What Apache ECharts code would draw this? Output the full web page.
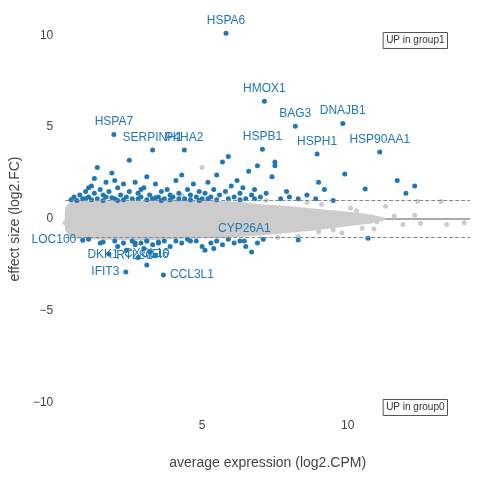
<!DOCTYPE html>
<html>
<head>
<meta charset="utf-8">
<script src="https://cdn.jsdelivr.net/npm/echarts@6/dist/echarts.min.js"></script>
<style>html,body{margin:0;padding:0;background:#fff}#main{width:480px;height:480px}</style>
</head>
<body>
<div id="main"></div>
<script>
// grey cloud envelope (non-significant genes): x, upper, lower
let cloudX = [0.3, 0.5, 1, 2, 3, 4, 5, 6, 6.5, 7, 8, 9, 10, 10.8, 11.3];
let cloudUp = [0.6, 0.95, 1.0, 1.0, 1.0, 1.0, 1.0, 0.95, 0.9, 0.8, 0.7, 0.55, 0.4, 0.25, 0.05];
let cloudLo = [-0.6, -1.0, -1.1, -1.15, -1.15, -1.1, -1.05, -1.0, -0.95, -0.9, -0.75, -0.6, -0.4, -0.25, -0.05];
// trend line
let trend = [[0.3, 0], [14.2, 0]];
// grey outliers
let greyPts = [[11.3, 0.7], [12.3, 0.2], [12.4, 0.95], [13.2, 0.95], [11.9, -0.3], [12.5, -0.25],
  [13.4, -0.3], [14.0, -0.2], [10.9, -0.55], [9.5, -0.6], [9.8, -0.75], [11.0, -0.15], [5.0, 2.8], [4.3, 1.3],
  [8.6, 0.9], [9.1, 0.8], [10.1, 0.6], [10.5, -0.5], [8.3, -0.95], [7.6, -1.0], [9.0, -0.7], [7.2, 1.0],
  [0.4, 0.3], [0.3, -0.2], [11.6, 0.15], [10.3, 0.45]];
// significant genes, labelled
let labNames = ['HSPA6', 'HMOX1', 'BAG3', 'DNAJB1', 'HSPA7', 'SERPINH1', 'P4HA2', 'HSPB1', 'HSPH1', 'HSP90AA1',
  'IFIT3', 'CCL3L1', 'CYP26A1', 'LOC100', 'DKK1', 'RTL8C', 'CXCL10', 'IFI6'];
let labX = [5.82, 7.14, 8.2, 9.83, 1.97, 3.3, 4.39, 7.07, 8.95, 11.1, 2.38, 3.67, 6.45, 0.9, 1.6, 2.7, 3.1, 3.5];
let labY = [10.1, 6.41, 5.05, 5.2, 4.6, 3.75, 3.75, 3.8, 3.53, 3.64, -2.88, -3.04, -1.2, -1.15, -1.25, -1.3, -1.2, -1.25];
let labPos = ['top', 'top', 'top', 'top', 'top', 'top', 'top', 'top', 'top', 'top',
  'left', 'right', 'top', 'left', 'bottom', 'bottom', 'bottom', 'bottom'];
// significant genes, unlabelled
let bluePts = [
  [0.6, 1.2], [0.8, 1.3], [0.9, 1.1], [1.0, 1.5], [1.1, 1.2], [1.2, 1.8], [1.3, 1.4], [1.3, 2.2], [1.4, 1.1], [1.5, 1.6],
  [1.6, 1.3], [1.7, 2.0], [1.7, 1.2], [1.8, 1.5], [1.9, 2.5], [2.0, 1.1], [2.1, 1.7], [2.2, 1.3], [2.3, 1.9], [2.4, 1.2],
  [2.5, 3.2], [2.5, 1.5], [2.6, 1.1], [2.7, 2.0], [2.8, 1.4], [2.9, 1.2], [3.0, 1.7], [3.1, 2.3], [3.2, 1.3], [3.3, 1.1],
  [3.4, 1.9], [3.5, 1.2], [3.6, 1.5], [3.7, 1.1], [3.8, 1.6], [3.9, 1.3], [4.0, 1.2], [4.1, 2.1], [4.2, 1.4], [4.3, 2.4],
  [4.4, 1.1], [4.5, 1.6], [4.6, 1.3], [4.7, 1.9], [4.8, 1.2], [4.9, 1.5], [5.0, 1.1], [5.1, 1.4], [5.2, 2.0], [5.3, 1.2],
  [5.4, 1.6], [5.5, 2.4], [5.6, 1.3], [5.7, 3.1], [5.8, 1.5], [5.9, 3.4], [6.0, 1.8], [6.1, 1.2], [6.2, 2.1], [6.3, 1.4],
  [6.4, 1.7], [6.5, 1.1], [6.6, 2.6], [6.7, 1.3], [6.8, 1.6], [6.9, 2.9], [7.0, 1.2], [7.2, 1.4], [7.4, 2.3], [7.5, 2.9],
  [7.5, 3.1], [7.7, 1.1], [7.9, 1.5], [8.0, 1.2], [8.3, 1.1], [8.6, 1.3], [8.9, 1.1], [9.0, 2.0], [9.2, 1.6], [9.5, 1.0],
  [9.9, 2.45], [10.6, 1.63], [11.7, 2.1], [12.0, 1.4], [12.3, 1.8], [0.7, 1.0], [1.4, 2.8], [2.1, 1.0], [3.6, 1.0], [4.9, 1.0],
  [0.5, 1.05], [1.0, 1.1], [1.2, 1.05], [1.6, 1.0], [1.9, 1.15], [2.3, 1.05], [2.8, 1.1], [3.1, 1.05], [3.4, 1.15], [3.9, 1.05],
  [4.2, 1.1], [4.6, 1.05], [5.2, 1.1], [5.5, 1.05], [5.9, 1.1], [6.3, 1.05], [6.8, 1.1], [1.1, 1.7], [2.0, 2.1], [2.9, 1.6],
  [1.1, -1.1], [1.5, -1.3], [1.8, -1.9], [2.0, -1.2], [2.1, -1.5], [2.3, -1.3], [2.4, -1.7], [2.6, -1.2], [2.7, -1.4], [2.8, -2.1],
  [2.9, -1.3], [3.0, -1.6], [3.1, -1.2], [3.2, -1.8], [3.3, -1.4], [3.4, -2.0], [3.5, -1.3], [3.7, -1.2], [3.9, -1.5], [4.1, -1.2],
  [4.3, -1.3], [4.5, -1.1], [4.8, -1.2], [5.0, -1.5], [5.1, -1.7], [5.3, -1.3], [5.4, -1.6], [5.5, -1.2], [5.7, -1.4], [5.9, -1.1],
  [6.1, -1.3], [6.3, -1.2], [6.5, -1.5], [6.7, -1.8], [6.9, -1.3], [7.1, -1.1], [8.3, -1.14], [10.7, -1.05], [3.1, -2.5], [4.6, -1.2]
];

let chart = echarts.init(document.getElementById('main'));
let blue = '#1f77b4';
chart.setOption({
  animation: false,
  grid: { left: 62, right: 10, top: 26, bottom: 68 },
  xAxis: {
    type: 'value', min: 0.3, max: 14.2,
    name: 'average expression (log2.CPM)', nameLocation: 'middle', nameGap: 44,
    nameTextStyle: { fontSize: 14, color: '#444' },
    axisLine: { show: false }, splitLine: { show: false },
    axisTick: { show: false },
    axisLabel: { customValues: [5, 10], color: '#444', fontSize: 12 }
  },
  yAxis: {
    type: 'value', min: -10.5, max: 10.5,
    name: 'effect size (log2.FC)', nameLocation: 'middle', nameGap: 38,
    nameTextStyle: { fontSize: 14, color: '#444' },
    axisLine: { show: false }, splitLine: { show: false },
    axisTick: { show: false },
    axisLabel: { customValues: [-10, -5, 0, 5, 10], color: '#444', fontSize: 12, margin: 12,
      formatter: v => v < 0 ? '\u2212' + Math.abs(v) : String(v) }
  },
  series: [
    {
      type: 'line', data: trend, symbol: 'none', lineStyle: { color: '#aaa', width: 2 }, z: 1,
      markLine: {
        silent: true, symbol: 'none', label: { show: false },
        lineStyle: { color: '#888', type: 'dashed', width: 1 },
        data: [{ yAxis: 1 }, { yAxis: -1 }]
      }
    },
    {
      type: 'custom', z: 2,
      data: [0],
      renderItem: function (params, api) {
        let pts = [];
        cloudX.forEach((x, i) => pts.push(api.coord([x, cloudUp[i]])));
        for (let i = cloudX.length - 1; i >= 0; i--) pts.push(api.coord([cloudX[i], cloudLo[i]]));
        return { type: 'polygon', shape: { points: pts, smooth: 0.15 }, style: { fill: '#cccccc' } };
      }
    },
    { type: 'scatter', data: greyPts, symbolSize: 5, itemStyle: { color: '#cccccc', opacity: 1 }, z: 3 },
    { type: 'scatter', data: bluePts, symbolSize: 5, itemStyle: { color: blue, opacity: 1 }, z: 4 },
    {
      type: 'scatter', symbolSize: 5, itemStyle: { color: blue, opacity: 1 }, z: 5,
      data: labNames.map((n, i) => ({
        value: [labX[i], labY[i]], name: n,
        label: { show: true, formatter: n, position: labPos[i], distance: 4, color: blue, fontSize: 12 }
      }))
    }
  ],
  graphic: [
    { type: 'text', right: 32, top: 32, style: { text: 'UP in group1', fontSize: 10, fill: '#333',
      borderColor: '#555', borderWidth: 1, padding: [3, 3] } },
    { type: 'text', right: 32, top: 399, style: { text: 'UP in group0', fontSize: 10, fill: '#333',
      borderColor: '#555', borderWidth: 1, padding: [3, 3] } }
  ]
});
</script>
</body>
</html>
